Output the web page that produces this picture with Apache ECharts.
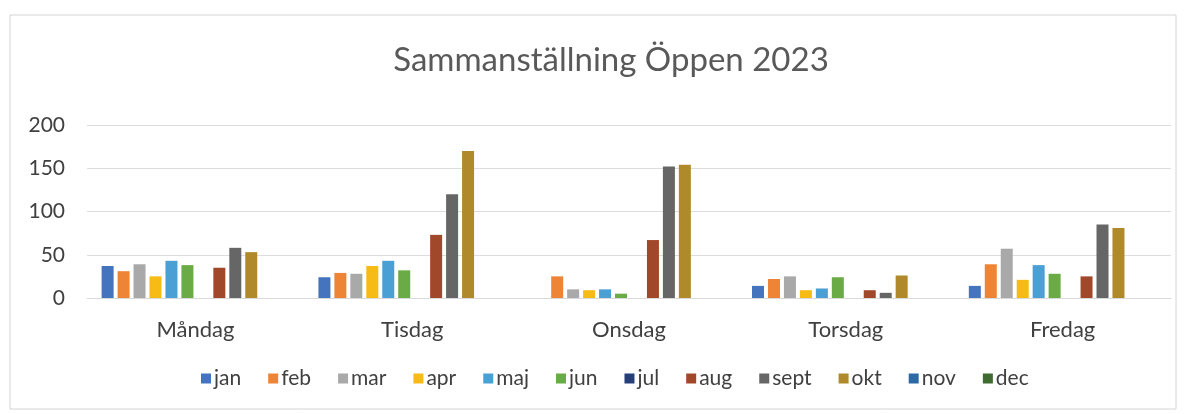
<!DOCTYPE html>
<html>
<head>
<meta charset="utf-8">
<script src="https://cdn.jsdelivr.net/npm/echarts@6/dist/echarts.min.js"></script>
<style>
  html, body { margin: 0; padding: 0; background: #fff; }
  #chart { width: 1187px; height: 414px; }
</style>
</head>
<body>
<div id="chart"></div>
<script>
// weekdays on the x axis
const days = ["Måndag", "Tisdag", "Onsdag", "Torsdag", "Fredag"];
const yTicks = [0, 50, 100, 150, 200];

// one array per month, values per weekday
const jan  = [37, 24, 0, 14, 14];
const feb  = [31, 29, 25, 22, 39];
const mar  = [39, 28, 10, 25, 57];
const apr  = [25, 37, 9, 9, 21];
const maj  = [43, 43, 10, 11, 38];
const jun  = [38, 32, 5, 24, 28];
const jul  = [0, 0, 0, 0, 0];
const aug  = [35, 73, 67, 9, 25];
const sept = [58, 120, 152, 6, 85];
const okt  = [53, 170, 154, 26, 81];
const nov  = [0, 0, 0, 0, 0];
const dec  = [0, 0, 0, 0, 0];

const months = ["jan", "feb", "mar", "apr", "maj", "jun", "jul", "aug", "sept", "okt", "nov", "dec"];
const values = [jan, feb, mar, apr, maj, jun, jul, aug, sept, okt, nov, dec];
const colors = ["#4474bd", "#ee8436", "#a9a9a9", "#f6bb14", "#4a9fd4", "#6aab45",
                "#263f78", "#a2482a", "#666666", "#b08a2a", "#2c6aa5", "#3f6a31"];

const font = "Lato, 'Open Sans', sans-serif";
const myChart = echarts.init(document.getElementById("chart"));

myChart.setOption({
  animation: false,
  color: colors,
  textStyle: { fontFamily: font },
  title: {
    text: "Sammanställning Öppen 2023",
    left: 606,
    textAlign: "center",
    top: 39,
    textStyle: { fontSize: 33, fontWeight: "normal", color: "#595959", fontFamily: font }
  },
  graphic: [
    {
      type: "rect",
      shape: { x: 10, y: 15, width: 1166, height: 394 },
      style: { fill: "none", stroke: "#d4d4d4", lineWidth: 1 },
      silent: true
    }
  ],
  legend: {
    data: months,
    bottom: 20,
    left: 196,
    itemWidth: 10,
    itemHeight: 10,
    itemGap: 27,
    icon: "rect",
    textStyle: { fontSize: 21, color: "#404040", padding: [0, 0, 0, -2] }
  },
  grid: {
    left: 87,
    right: 16,
    top: 125,
    bottom: 116
  },
  xAxis: {
    type: "category",
    data: days,
    axisLine: { show: true, lineStyle: { color: "#d9d9d9" } },
    axisTick: { show: false },
    axisLabel: { fontSize: 22, color: "#404040", margin: 21 }
  },
  yAxis: {
    type: "value",
    min: yTicks[0],
    max: yTicks[yTicks.length - 1],
    interval: 50,
    axisLine: { show: false },
    axisTick: { show: false },
    splitLine: { lineStyle: { color: "#dddddd" } },
    axisLabel: { fontSize: 21, color: "#404040", margin: 22 }
  },
  series: months.map((m, i) => ({
    name: m,
    type: "bar",
    data: values[i],
    barWidth: 12,
    barGap: "33%"
  }))
});
</script>
</body>
</html>
